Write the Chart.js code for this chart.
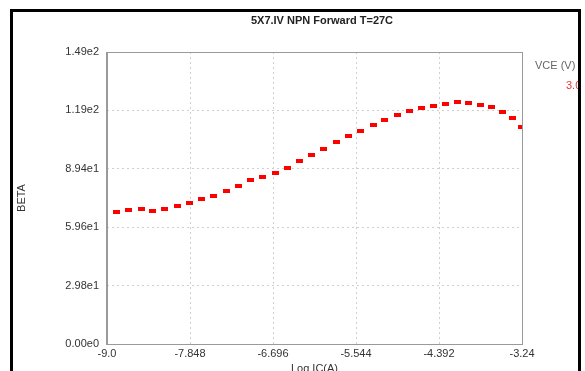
<!DOCTYPE html>
<html>
<head>
<meta charset="utf-8">
<script src="https://cdn.jsdelivr.net/npm/chart.js@4.4.1/dist/chart.umd.min.js"></script>
<style>
    html, body { margin: 0; padding: 0; background: #ffffff; overflow: hidden; }
    #wrap { position: relative; width: 585px; height: 371px; }
</style>
</head>
<body>
<div id="wrap"><canvas id="betaChart" width="585" height="371"></canvas></div>
<script>
// Log IC(A) values and measured BETA at VCE = 3.0 V
const logIc = [
    -8.865, -8.704, -8.528, -8.371, -8.195, -8.028, -7.858, -7.686, -7.519, -7.348,
    -7.178, -7.015, -6.845, -6.668, -6.498, -6.331, -6.159, -5.998, -5.812, -5.651,
    -5.479, -5.304, -5.142, -4.971, -4.795, -4.632, -4.471, -4.295, -4.138, -3.980,
    -3.813, -3.661, -3.508, -3.369, -3.244
];
const beta = [
    67.3, 68.4, 69.0, 67.8, 69.0, 70.6, 71.9, 73.8, 75.7, 77.9,
    80.4, 83.8, 85.2, 87.4, 89.8, 93.2, 96.5, 99.3, 102.9, 106.0,
    108.9, 111.7, 114.5, 117.1, 119.1, 120.5, 121.7, 122.7, 123.6, 123.1,
    121.8, 120.7, 118.6, 115.4, 110.9
];

const xTicks = [-9.0, -7.848, -6.696, -5.544, -4.392, -3.24];
const xTickLabels = ["-9.0", "-7.848", "-6.696", "-5.544", "-4.392", "-3.24"];
const yTicks = [0, 29.8, 59.6, 89.4, 119.2, 149];
const yTickLabels = ["0.00e0", "2.98e1", "5.96e1", "8.94e1", "1.19e2", "1.49e2"];

const chartTitle = "5X7.IV NPN Forward T=27C";
const legendTitle = "VCE (V)";
const seriesName = "3.0";

// small flat red marker like the original plot
const marker = document.createElement("canvas");
marker.width = 7;
marker.height = 4;
const mctx = marker.getContext("2d");
mctx.fillStyle = "#ff0000";
mctx.fillRect(0, 0, 7, 4);

const font = "'Liberation Sans', Arial, sans-serif";

// frame, title, legend and plot box
const decorations = {
    id: "decorations",
    beforeDraw(chart) {
        const c = chart.ctx;
        c.save();
        c.fillStyle = "#ffffff";
        c.fillRect(0, 0, chart.width, chart.height);
        c.restore();
    },
    afterDraw(chart) {
        const c = chart.ctx;
        const a = chart.chartArea;
        c.save();
        // outer black frame
        c.strokeStyle = "#000000";
        c.lineWidth = 3;
        c.strokeRect(11.5, 10.5, 568, 380);
        // plot box
        c.strokeStyle = "#9a9a9a";
        c.lineWidth = 1;
        c.strokeRect(a.left + 0.5, a.top + 0.5, a.right - a.left, a.bottom - a.top);
        c.lineWidth = 2;
        c.beginPath();
        c.moveTo(a.left, a.top);
        c.lineTo(a.left, a.bottom + 1);
        c.stroke();
        // title
        c.fillStyle = "#222222";
        c.font = "bold 11px " + font;
        c.textAlign = "center";
        c.textBaseline = "middle";
        c.fillText(chartTitle, 322, 21);
        // legend
        c.textAlign = "left";
        c.font = "11px " + font;
        c.fillStyle = "#666666";
        c.fillText(legendTitle, 535, 66);
        c.fillStyle = "#e03a3a";
        c.fillText(seriesName, 566, 86);
        // cover legend overflow with frame again
        c.fillStyle = "#ffffff";
        c.fillRect(580, 0, 5, 371);
        c.strokeStyle = "#000000";
        c.lineWidth = 3;
        c.beginPath();
        c.moveTo(579.5, 9);
        c.lineTo(579.5, 371);
        c.stroke();
        c.restore();
    }
};

const ctx = document.getElementById("betaChart").getContext("2d");
const betaChart = new Chart(ctx, {
    type: "scatter",
    data: {
        datasets: [
            {
                label: seriesName,
                data: logIc.map((x, i) => ({ x: x, y: beta[i] })),
                pointStyle: marker,
                pointRadius: 4,
                backgroundColor: "#ff0000",
                borderColor: "#ff0000",
                showLine: false
            }
        ]
    },
    options: {
        responsive: false,
        animation: false,
        layout: {
            padding: { left: 0, top: 52, right: 63, bottom: 0 }
        },
        scales: {
            x: {
                type: "linear",
                min: -9.0,
                max: -3.24,
                afterBuildTicks: (scale) => {
                    scale.ticks = xTicks.map(v => ({ value: v }));
                },
                afterFit: (scale) => { scale.height = 27; },
                ticks: {
                    autoSkip: false,
                    maxRotation: 0,
                    padding: 3,
                    color: "#333333",
                    font: { family: font, size: 11 },
                    callback: (v) => xTickLabels[xTicks.indexOf(v)]
                },
                grid: {
                    color: "#d0d0d0",
                    drawTicks: false
                },
                border: { display: false, dash: [2, 3] },
                title: {
                    display: true,
                    text: "Log IC(A)",
                    color: "#333333",
                    font: { family: font, size: 11 },
                    padding: { top: 0, bottom: -5 }
                }
            },
            y: {
                type: "linear",
                min: 0,
                max: 149,
                afterBuildTicks: (scale) => {
                    scale.ticks = yTicks.map(v => ({ value: v }));
                },
                afterFit: (scale) => { scale.width = 107; },
                ticks: {
                    autoSkip: false,
                    padding: 8,
                    color: "#333333",
                    font: { family: font, size: 11 },
                    callback: (v) => yTickLabels[yTicks.indexOf(v)]
                },
                grid: {
                    color: "#d0d0d0",
                    drawTicks: false
                },
                border: { display: false, dash: [2, 3] },
                title: {
                    display: true,
                    text: "BETA",
                    color: "#333333",
                    font: { family: font, size: 11 },
                    padding: { top: 15, bottom: 0 }
                }
            }
        },
        plugins: {
            legend: { display: false },
            tooltip: { enabled: false },
            title: { display: false }
        }
    },
    plugins: [decorations]
});
</script>
</body>
</html>
